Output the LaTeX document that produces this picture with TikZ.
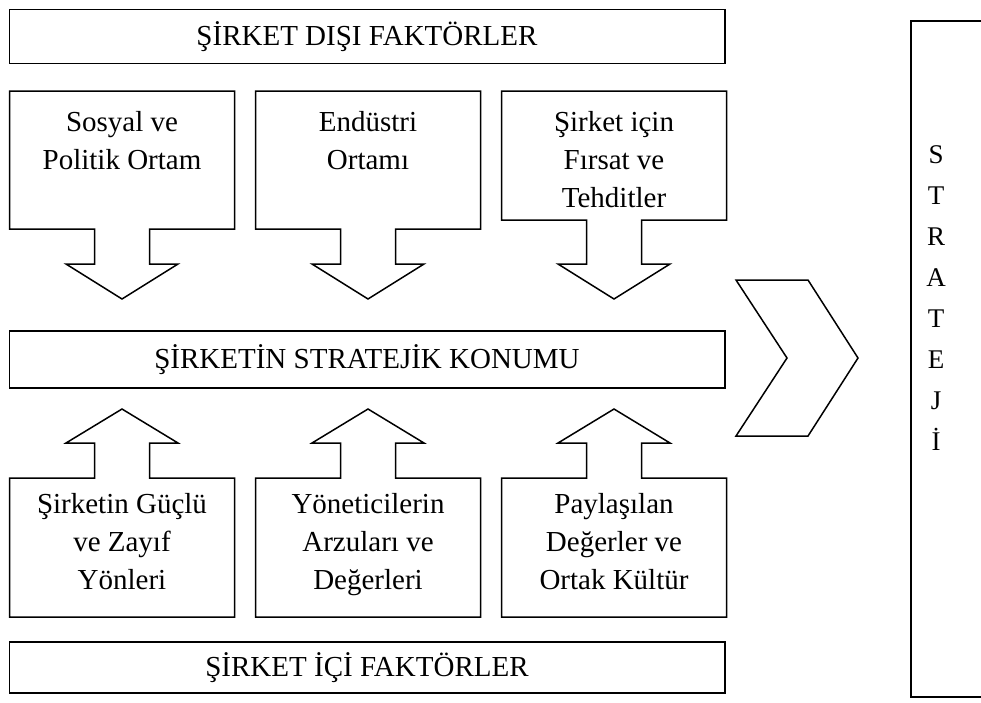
\documentclass[tikz,border=0pt]{standalone}
\usepackage{fontspec}
\setmainfont{Liberation Serif}
% block with a downward arrow below it: centre x, bottom of the box part
\newcommand\downblock[2]{%
  \draw ({#1-112.5},91) -- ({#1+112.5},91) -- ({#1+112.5},#2) -- ({#1+27.5},#2)
    -- ({#1+27.5},264) -- ({#1+56},264) -- (#1,299) -- ({#1-56},264)
    -- ({#1-27.5},264) -- ({#1-27.5},#2) -- ({#1-112.5},#2) -- cycle;}
% block with an upward arrow above it: centre x
\newcommand\upblock[1]{%
  \draw ({#1-112.5},617) -- ({#1+112.5},617) -- ({#1+112.5},478) -- ({#1+27.5},478)
    -- ({#1+27.5},443) -- ({#1+56},443) -- (#1,409) -- ({#1-56},443)
    -- ({#1-27.5},443) -- ({#1-27.5},478) -- ({#1-112.5},478) -- cycle;}
\begin{document}
\begin{tikzpicture}[x=1pt,y=-1pt,line width=1.5pt,line join=miter,
  lbl/.style={font=\fontsize{29}{38}\selectfont,align=center,inner sep=0pt},
  bar/.style={draw,rectangle,inner sep=0pt,minimum width=715.5,
    font=\fontsize{29}{38}\selectfont}]
\useasboundingbox (0,0) rectangle (981,702);

% horizontal bars
\node[bar,minimum height=54] (dis) at (367,36.5) {ŞİRKET DIŞI FAKTÖRLER};
\node[bar,minimum height=57] (konum) at (367,359.5) {ŞİRKETİN STRATEJİK KONUMU};
\node[bar,minimum height=51] (ic) at (367,667.5) {ŞİRKET İÇİ FAKTÖRLER};

% external factors
\downblock{122}{229}
\downblock{368}{229}
\downblock{614}{220}
\node[lbl,anchor=north] (sosyal) at (122,111) {Sosyal ve\\Politik Ortam};
\node[lbl,anchor=north] (endustri) at (368,111) {Endüstri\\Ortamı};
\node[lbl,anchor=north] (firsat) at (614,111) {Şirket için\\Fırsat ve\\Tehditler};

% internal factors
\upblock{122}
\upblock{368}
\upblock{614}
\node[lbl,anchor=north] (guclu) at (122,493) {Şirketin Güçlü\\ve Zayıf\\Yönleri};
\node[lbl,anchor=north] (yonetici) at (368,493) {Yöneticilerin\\Arzuları ve\\Değerleri};
\node[lbl,anchor=north] (kultur) at (614,493) {Paylaşılan\\Değerler ve\\Ortak Kültür};

% chevron towards the strategy column
\draw (736,280) -- (808,280) -- (858,358) -- (808,436) -- (736,436) -- (787,358) -- cycle;

% strategy column
\node[draw,rectangle,inner sep=0pt,minimum width=90,minimum height=676,anchor=north west]
  (strateji) at (910,20) {};
\node[font=\fontsize{27}{41}\selectfont,align=center,inner sep=0pt,anchor=north]
  (harfler) at (936,145) {S\\T\\R\\A\\T\\E\\J\\İ};
\end{tikzpicture}
\end{document}
